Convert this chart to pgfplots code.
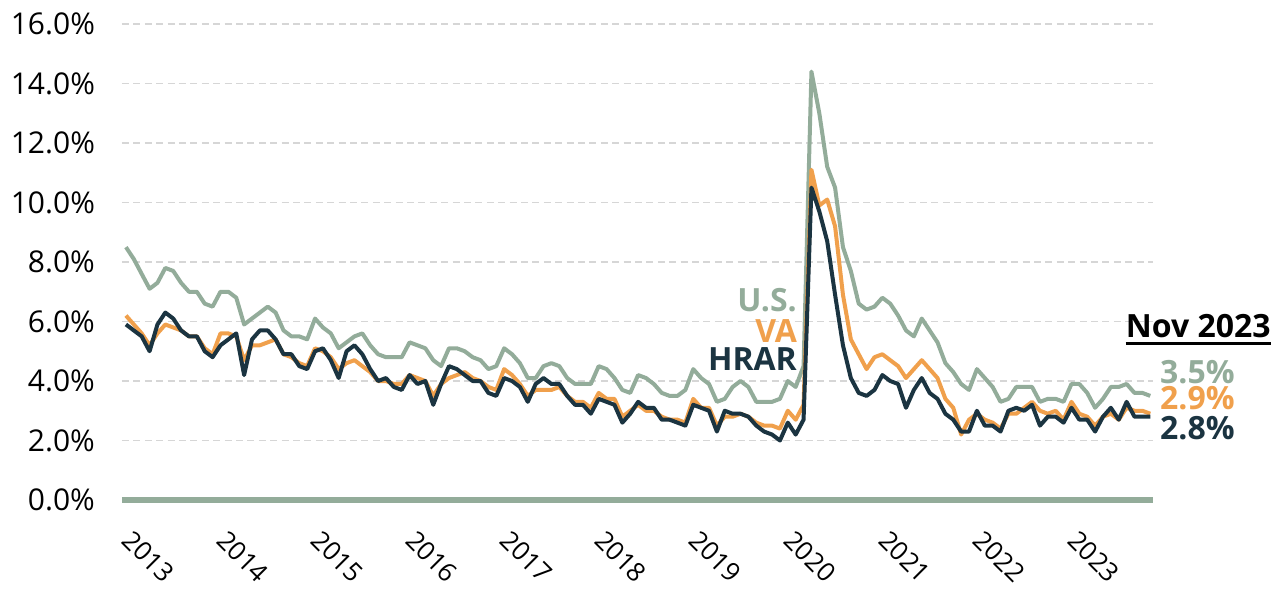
\documentclass[border=0pt]{standalone}
\usepackage{fontspec}
\setmainfont{Open Sans}
\usepackage{pgfplots}
\usepackage{pgfplotstable}
\pgfplotsset{compat=1.18}
\definecolor{usc}{HTML}{93AC9A}
\definecolor{vac}{HTML}{F0A04C}
\definecolor{hrc}{HTML}{1B3441}
\definecolor{gridc}{HTML}{D6D6D6}

% monthly unemployment rate, Jan 2013 (0) .. Nov 2023 (130)
\pgfplotstableread{
i us va hr
0 8.5 6.2 5.9
1 8.1 5.9 5.7
2 7.6 5.6 5.5
3 7.1 5.2 5.0
4 7.3 5.6 5.9
5 7.8 5.9 6.3
6 7.7 5.8 6.1
7 7.3 5.7 5.7
8 7.0 5.5 5.5
9 7.0 5.5 5.5
10 6.6 5.1 5.0
11 6.5 4.9 4.8
12 7.0 5.6 5.2
13 7.0 5.6 5.4
14 6.8 5.5 5.6
15 5.9 4.7 4.2
16 6.1 5.2 5.4
17 6.3 5.2 5.7
18 6.5 5.3 5.7
19 6.3 5.4 5.4
20 5.7 4.9 4.9
21 5.5 4.8 4.9
22 5.5 4.6 4.5
23 5.4 4.5 4.4
24 6.1 5.1 5.0
25 5.8 5.0 5.1
26 5.6 4.8 4.7
27 5.1 4.4 4.1
28 5.3 4.6 5.0
29 5.5 4.7 5.2
30 5.6 4.5 4.9
31 5.2 4.3 4.4
32 4.9 4.0 4.0
33 4.8 4.0 4.1
34 4.8 3.9 3.8
35 4.8 3.9 3.7
36 5.3 4.2 4.2
37 5.2 4.1 3.9
38 5.1 4.0 4.0
39 4.7 3.5 3.2
40 4.5 3.9 3.9
41 5.1 4.1 4.5
42 5.1 4.2 4.4
43 5.0 4.3 4.2
44 4.8 4.1 4.0
45 4.7 4.0 4.0
46 4.4 3.8 3.6
47 4.5 3.7 3.5
48 5.1 4.4 4.1
49 4.9 4.2 4.0
50 4.6 3.9 3.8
51 4.1 3.5 3.3
52 4.1 3.7 3.9
53 4.5 3.7 4.1
54 4.6 3.7 3.9
55 4.5 3.8 3.9
56 4.1 3.5 3.5
57 3.9 3.3 3.2
58 3.9 3.3 3.2
59 3.9 3.1 2.9
60 4.5 3.6 3.4
61 4.4 3.4 3.3
62 4.1 3.4 3.2
63 3.7 2.8 2.6
64 3.6 3.0 2.9
65 4.2 3.2 3.3
66 4.1 3.0 3.1
67 3.9 3.0 3.1
68 3.6 2.8 2.7
69 3.5 2.7 2.7
70 3.5 2.7 2.6
71 3.7 2.6 2.5
72 4.4 3.4 3.2
73 4.1 3.1 3.1
74 3.9 3.1 3.0
75 3.3 2.5 2.3
76 3.4 2.8 3.0
77 3.8 2.8 2.9
78 4.0 2.9 2.9
79 3.8 2.8 2.8
80 3.3 2.6 2.5
81 3.3 2.5 2.3
82 3.3 2.5 2.2
83 3.4 2.4 2.0
84 4.0 3.0 2.6
85 3.8 2.7 2.2
86 4.5 3.2 2.7
87 14.4 11.1 10.5
88 13.0 9.9 9.7
89 11.2 10.1 8.7
90 10.5 9.2 6.9
91 8.5 6.9 5.2
92 7.7 5.4 4.1
93 6.6 4.9 3.6
94 6.4 4.4 3.5
95 6.5 4.8 3.7
96 6.8 4.9 4.2
97 6.6 4.7 4.0
98 6.2 4.5 3.9
99 5.7 4.1 3.1
100 5.5 4.4 3.7
101 6.1 4.7 4.1
102 5.7 4.4 3.6
103 5.3 4.1 3.4
104 4.6 3.4 2.9
105 4.3 3.1 2.7
106 3.9 2.2 2.3
107 3.7 2.7 2.3
108 4.4 2.9 3.0
109 4.1 2.7 2.5
110 3.8 2.6 2.5
111 3.3 2.4 2.3
112 3.4 2.9 3.0
113 3.8 2.9 3.1
114 3.8 3.1 3.0
115 3.8 3.3 3.2
116 3.3 3.0 2.5
117 3.4 2.9 2.8
118 3.4 3.0 2.8
119 3.3 2.7 2.6
120 3.9 3.3 3.1
121 3.9 2.9 2.7
122 3.6 2.8 2.7
123 3.1 2.5 2.3
124 3.4 2.8 2.8
125 3.8 2.9 3.1
126 3.8 2.7 2.7
127 3.9 3.1 3.3
128 3.6 3.0 2.8
129 3.6 3.0 2.8
130 3.5 2.9 2.8
}\rates

\begin{document}
\begin{tikzpicture}
\begin{axis}[name=ax, at={(0,0)}, anchor=south west,
  scale only axis, width=515.7pt, height=238pt,
  xmin=-0.5, xmax=130.4, ymin=0, ymax=16,
  axis x line*=bottom, axis y line*=left,
  y axis line style={draw=none},
  x axis line style={line width=2.6pt, color=usc, -},
  tick style={draw=none},
  ytick={0,2,...,16},
  yticklabels={0.0\%,2.0\%,4.0\%,6.0\%,8.0\%,10.0\%,12.0\%,14.0\%,16.0\%},
  yticklabel style={font=\fontsize{15}{18}\selectfont, xshift=-10pt},
  xtick={0,12,...,120},
  xticklabels={2013,2014,2015,2016,2017,2018,2019,2020,2021,2022,2023},
  xticklabel style={font=\fontsize{13}{16}\selectfont, xshift=4pt, yshift=-9.4pt, rotate=-45, anchor=north west},
  ymajorgrids, major grid style={gridc, line width=0.8pt, dash pattern=on 3.5pt off 2.2pt},
  clip=false,
  every axis plot/.append style={line width=2pt, line join=round, no markers},
]
\addplot[usc] table[x=i, y=us] {\rates};
\addplot[vac] table[x=i, y=va] {\rates};
\addplot[hrc] table[x=i, y=hr] {\rates};

\node[anchor=base east, font=\fontsize{16}{19}\selectfont\bfseries, text=usc, inner sep=0pt] at (axis cs:85.2,6.32) {U.S.};
\node[anchor=base east, font=\fontsize{16}{19}\selectfont\bfseries, text=vac, inner sep=0pt] at (axis cs:85.2,5.28) {VA};
\node[anchor=base east, font=\fontsize{16}{19}\selectfont\bfseries, text=hrc, inner sep=0pt] at (axis cs:85.2,4.37) {HRAR};

\node[name=nov, anchor=base, font=\fontsize{16}{19}\selectfont\bfseries, inner sep=0pt] at (axis cs:136.1,5.45) {Nov 2023};
\draw[line width=1.5pt] ([yshift=-2.6pt]nov.base west) -- ([yshift=-2.6pt]nov.base east);

\node[anchor=base west, font=\fontsize{16}{19}\selectfont\bfseries, text=usc, inner sep=0pt] at (axis cs:131.2,3.93) {3.5\%};
\node[anchor=base west, font=\fontsize{16}{19}\selectfont\bfseries, text=vac, inner sep=0pt] at (axis cs:131.2,3.03) {2.9\%};
\node[anchor=base west, font=\fontsize{16}{19}\selectfont\bfseries, text=hrc, inner sep=0pt] at (axis cs:131.2,2.02) {2.8\%};
\end{axis}
\pgfresetboundingbox
\path[use as bounding box] ([xshift=-61pt, yshift=-45.5pt]ax.south west) rectangle ([xshift=580.5pt, yshift=250pt]ax.south west);
\end{tikzpicture}
\end{document}
